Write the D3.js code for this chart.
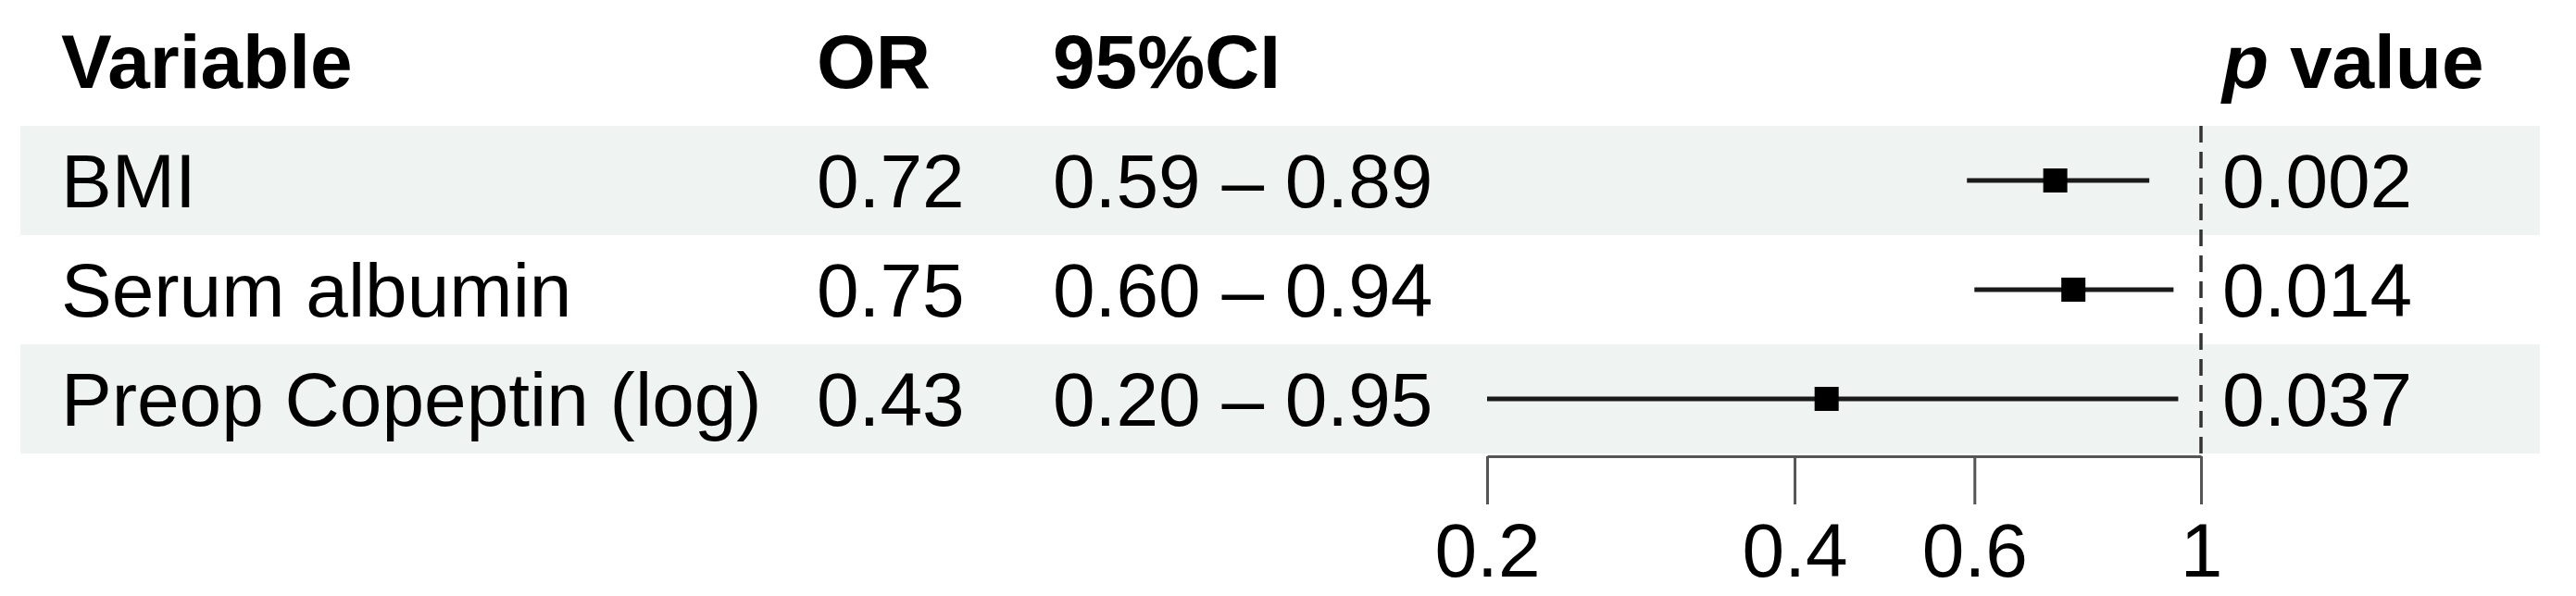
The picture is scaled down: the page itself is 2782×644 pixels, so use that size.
<!DOCTYPE html>
<html>
<head>
<meta charset="utf-8">
<script src="https://cdn.jsdelivr.net/npm/d3@7"></script>
<style>
  body { margin: 0; background: #fff; }
  svg text { font-family: "Liberation Sans", Arial, sans-serif; fill: #000; }
</style>
</head>
<body>
<div id="chart"></div>
<script>
// data
var variables = ["BMI", "Serum albumin", "Preop Copeptin (log)"];
var orValues = [0.72, 0.75, 0.43];
var ciLower = [0.59, 0.60, 0.20];
var ciUpper = [0.89, 0.94, 0.95];
var orLabels = ["0.72", "0.75", "0.43"];
var ciLabels = ["0.59 \u2013 0.89", "0.60 \u2013 0.94", "0.20 \u2013 0.95"];
var pValues = ["0.002", "0.014", "0.037"];
var xTicks = [0.2, 0.4, 0.6, 1];

var width = 2782,
    height = 644,
    fontSize = 82,
    bandFill = "#eff3f2";

var rows = variables.map(function(v, i) {
  return {name: v, or: orValues[i], lo: ciLower[i], hi: ciUpper[i],
          orLabel: orLabels[i], ciLabel: ciLabels[i], p: pValues[i], i: i};
});

var svg = d3.select("#chart").append("svg")
    .attr("width", width)
    .attr("height", height);

var xScale = d3.scaleLog().domain([0.2, 1]).range([1606, 2377]);
var yScale = d3.scaleBand().domain(variables).range([136, 490]);

// column positions
var col = {name: 66, or: 882, ci: 1137, p: 2400};

// alternating row backgrounds
svg.append("g").selectAll("rect")
    .data(rows.filter(function(d) { return d.i % 2 === 0; }))
  .enter().append("rect")
    .attr("x", 22)
    .attr("width", 2743 - 22)
    .attr("y", function(d) { return yScale(d.name); })
    .attr("height", yScale.bandwidth())
    .attr("fill", bandFill);

// header
var header = svg.append("g")
    .attr("font-size", fontSize)
    .attr("font-weight", "bold");
header.append("text").attr("x", col.name).attr("y", 95).text("Variable");
header.append("text").attr("x", col.or).attr("y", 95).text("OR");
header.append("text").attr("x", col.ci).attr("y", 95).text("95%CI");
var pHead = header.append("text").attr("x", col.p).attr("y", 95);
pHead.append("tspan").attr("font-style", "italic").text("p");
pHead.append("tspan").text(" value");

// table text
function baseline(d) { return yScale(d.name) + yScale.bandwidth() / 2 + fontSize * 0.358; }

var body = svg.append("g").attr("font-size", fontSize);
[["name", "name"], ["or", "orLabel"], ["ci", "ciLabel"], ["p", "p"]].forEach(function(c) {
  body.selectAll("text." + c[0])
      .data(rows)
    .enter().append("text")
      .attr("class", c[0])
      .attr("x", col[c[0]])
      .attr("y", baseline)
      .text(function(d) { return d[c[1]]; });
});

// reference line at OR = 1
svg.append("line")
    .attr("x1", xScale(1)).attr("x2", xScale(1))
    .attr("y1", yScale.range()[0]).attr("y2", 493)
    .attr("stroke", "#333")
    .attr("stroke-width", 3.5)
    .attr("stroke-dasharray", "18,10");

// x axis
var axis = svg.append("g")
    .attr("transform", "translate(0,493)")
    .call(d3.axisBottom(xScale)
      .tickValues(xTicks)
      .tickSize(52)
      .tickSizeOuter(0)
      .tickPadding(20)
      .tickFormat(function(d) { return String(d); }));
axis.select(".domain").attr("stroke", "#555").attr("stroke-width", 3);
axis.selectAll(".tick line").attr("stroke", "#555").attr("stroke-width", 3);
axis.selectAll(".tick text")
    .attr("font-size", fontSize)
    .attr("font-family", "Liberation Sans, Arial, sans-serif")
    .attr("fill", "#000");

// confidence intervals and point estimates
var marks = svg.append("g");
marks.selectAll("line.ci")
    .data(rows)
  .enter().append("line")
    .attr("class", "ci")
    .attr("x1", function(d) { return xScale(d.lo); })
    .attr("x2", function(d) { return xScale(d.hi); })
    .attr("y1", function(d) { return yScale(d.name) + yScale.bandwidth() / 2; })
    .attr("y2", function(d) { return yScale(d.name) + yScale.bandwidth() / 2; })
    .attr("stroke", "#1a1a1a")
    .attr("stroke-width", 5);

var box = 26;
marks.selectAll("rect.pt")
    .data(rows)
  .enter().append("rect")
    .attr("class", "pt")
    .attr("x", function(d) { return xScale(d.or) - box / 2; })
    .attr("y", function(d) { return yScale(d.name) + yScale.bandwidth() / 2 - box / 2; })
    .attr("width", box)
    .attr("height", box)
    .attr("fill", "#000");
</script>
</body>
</html>
